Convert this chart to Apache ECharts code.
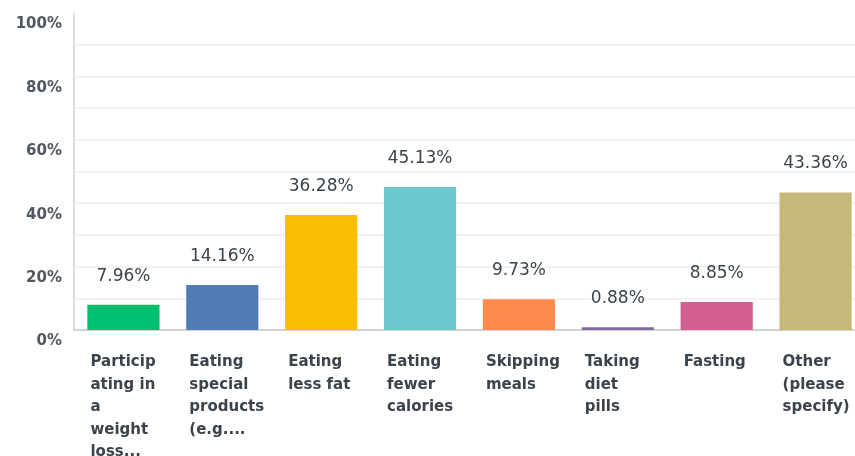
<!DOCTYPE html>
<html>
<head>
<meta charset="utf-8">
<script src="https://cdn.jsdelivr.net/npm/echarts@6/dist/echarts.min.js"></script>
<style>
  html, body { margin: 0; padding: 0; background: #ffffff; }
  #chart { width: 855px; height: 456px; }
</style>
</head>
<body>
<div id="chart"></div>
<script>
// Answer choices (pre-wrapped as shown under each bar)
const categories = [
  'Particip\nating in\na\nweight\nloss...',
  'Eating\nspecial\nproducts\n(e.g....',
  'Eating\nless fat',
  'Eating\nfewer\ncalories',
  'Skipping\nmeals',
  'Taking\ndiet\npills',
  'Fasting',
  'Other\n(please\nspecify)'
];
// Share of respondents, percent
const values = [7.96, 14.16, 36.28, 45.13, 9.73, 0.88, 8.85, 43.36];
const barColors = ['#00BF6F', '#507CB6', '#F9BE00', '#6BC8CD', '#FF8B4F', '#7F6AA2', '#D25F90', '#C7B879'];
// Percent axis ticks that carry a label
const yTicks = [0, 20, 40, 60, 80, 100];

const chart = echarts.init(document.getElementById('chart'), null, { renderer: 'canvas' });
const fontFamily = '"DejaVu Sans", sans-serif';

chart.setOption({
  animation: false,
  backgroundColor: '#ffffff',
  grid: {
    left: 74, top: 13, width: 791, height: 317,
    containLabel: false,
    outerBoundsMode: 'none'
  },
  xAxis: {
    type: 'category',
    data: categories,
    axisLine: { show: true, lineStyle: { color: '#d0d2d3', width: 2 } },
    axisTick: { show: false },
    axisLabel: {
      interval: 0,
      align: 'left',
      verticalAlign: 'top',
      margin: 21,
      padding: [0, 0, 0, -33],
      color: '#3b444c',
      fontFamily: fontFamily,
      fontSize: 15,
      fontWeight: 'bold',
      lineHeight: 22.5
    }
  },
  yAxis: {
    type: 'value',
    min: 0,
    max: 100,
    interval: 10,
    axisLine: { show: true, lineStyle: { color: '#d0d2d3', width: 1.5 } },
    axisTick: { show: false },
    splitLine: { show: true, showMaxLine: false, lineStyle: { color: '#eeeeee', width: 1.5 } },
    axisLabel: {
      margin: 12,
      verticalAlign: 'top',
      padding: [4, 0, 0, 0],
      color: '#4f5861',
      fontFamily: fontFamily,
      fontSize: 15,
      fontWeight: 'bold',
      formatter: function (v) { return yTicks.indexOf(v) >= 0 ? v + '%' : ''; }
    }
  },
  series: [{
    type: 'bar',
    data: values.map(function (v, i) {
      return { value: v, itemStyle: { color: barColors[i] } };
    }),
    barWidth: '73%',
    label: {
      show: true,
      position: 'top',
      distance: 20,
      color: '#3b444c',
      fontFamily: fontFamily,
      fontSize: 17,
      fontWeight: 'normal',
      formatter: function (p) { return p.value.toFixed(2) + '%'; }
    }
  }]
});
</script>
</body>
</html>
